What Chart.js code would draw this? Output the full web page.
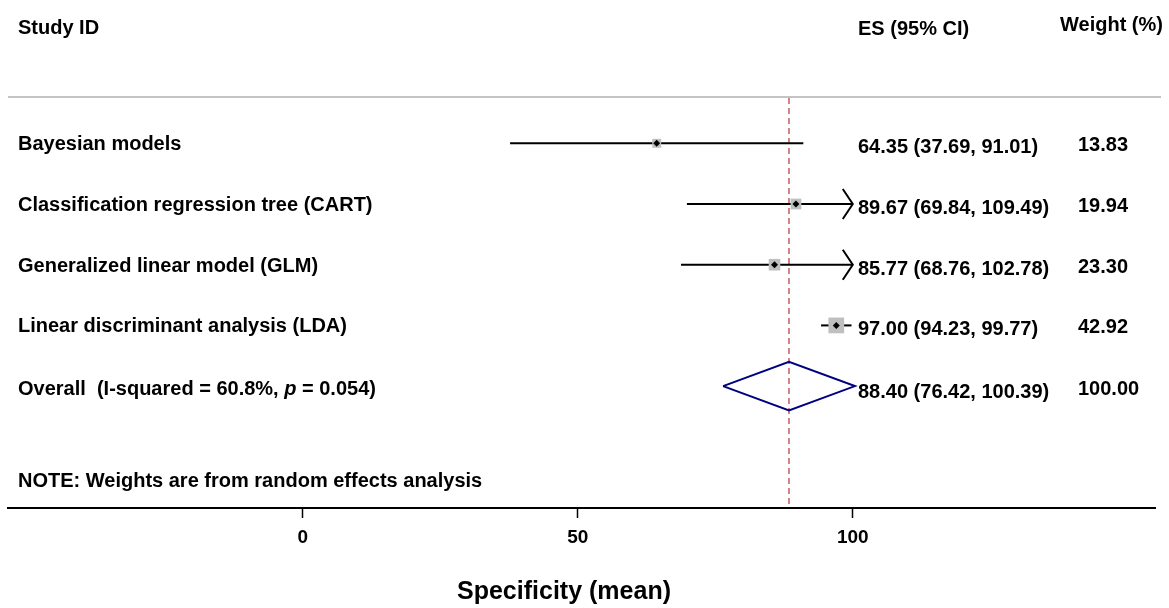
<!DOCTYPE html>
<html>
<head>
<meta charset="utf-8">
<script src="https://cdn.jsdelivr.net/npm/chart.js@4.4.1/dist/chart.umd.min.js"></script>
<style>
  html, body { margin: 0; padding: 0; background: #fff; }
  canvas { display: block; }
</style>
</head>
<body>
<canvas id="forestChart" width="1169" height="608"></canvas>
<script>
// study rows
const studies = [
  "Bayesian models",
  "Classification regression tree (CART)",
  "Generalized linear model (GLM)",
  "Linear discriminant analysis (LDA)",
];
const es = [64.35, 89.67, 85.77, 97.0];
const lower = [37.69, 69.84, 68.76, 94.23];
const upper = [91.01, 109.49, 102.78, 99.77];
const weights = [13.83, 19.94, 23.3, 42.92];

// pooled (random effects)
const overallES = 88.4;
const overallLower = 76.42;
const overallUpper = 100.39;
const overallWeight = 100.0;
const overallLabel = ["Overall  (I-squared = 60.8%, ", "p", " = 0.054)"];

const xTicks = [0, 50, 100];

const rows = studies.map((s, i) => i + 1);
const overallRow = studies.length + 1;
const clipMax = xTicks[xTicks.length - 1];
const FONT = "'Liberation Sans', Arial, Helvetica, sans-serif";

const fmt = (v) => v.toFixed(2);

// one dataset per confidence interval
const ciSets = studies.map((s, i) => ({
  type: "line",
  data: [
    { x: lower[i], y: rows[i] },
    { x: Math.min(upper[i], clipMax), y: rows[i] },
  ],
  borderColor: "#000",
  borderWidth: 2,
  pointRadius: 0,
  fill: false,
}));

const diamondH = 0.4;
const datasets = [
  {
    // centre markers
    type: "scatter",
    data: es.map((v, i) => ({ x: v, y: rows[i] })),
    pointStyle: "rectRot",
    pointRadius: 3.5,
    backgroundColor: "#000",
    borderWidth: 0,
  },
  {
    // weight boxes
    type: "scatter",
    data: es.map((v, i) => ({ x: v, y: rows[i] })),
    pointStyle: "rect",
    pointRadius: weights.map((w) => (2.4 * Math.sqrt(w)) / Math.SQRT2),
    backgroundColor: "#bfbfbf",
    borderWidth: 0,
  },
  ...ciSets,
  {
    // pooled diamond
    type: "line",
    data: [
      { x: overallLower, y: overallRow },
      { x: overallES, y: overallRow - diamondH },
      { x: overallUpper, y: overallRow },
      { x: overallES, y: overallRow + diamondH },
      { x: overallLower, y: overallRow },
    ],
    borderColor: "#000080",
    borderWidth: 2,
    pointRadius: 0,
    fill: false,
    tension: 0,
  },
];

const forestText = {
  id: "forestText",
  beforeDatasetsDraw(chart) {
    const { ctx, chartArea, scales } = chart;
    ctx.save();
    // header rule
    ctx.strokeStyle = "#c4c4c4";
    ctx.lineWidth = 2;
    ctx.beginPath();
    ctx.moveTo(8, 97);
    ctx.lineTo(1161, 97);
    ctx.stroke();
    // line of the pooled estimate
    const xr = scales.x.getPixelForValue(overallES);
    ctx.strokeStyle = "#c55a62";
    ctx.lineWidth = 1.5;
    ctx.setLineDash([6, 4]);
    ctx.beginPath();
    ctx.moveTo(xr, 98);
    ctx.lineTo(xr, chartArea.bottom);
    ctx.stroke();
    ctx.restore();
  },
  afterDraw(chart) {
    const { ctx, scales } = chart;
    const yOf = (r) => scales.y.getPixelForValue(r);
    ctx.save();
    ctx.fillStyle = "#000";
    ctx.textBaseline = "alphabetic";
    ctx.textAlign = "left";
    ctx.font = "bold 20px " + FONT;

    // arrows where the interval runs past the axis
    ctx.strokeStyle = "#000";
    ctx.lineWidth = 2;
    upper.forEach((u, i) => {
      if (u <= clipMax) return;
      const tx = scales.x.getPixelForValue(clipMax);
      const ty = yOf(rows[i]);
      ctx.beginPath();
      ctx.moveTo(tx - 10, ty - 15);
      ctx.lineTo(tx, ty);
      ctx.lineTo(tx - 10, ty + 15);
      ctx.stroke();
    });

    // headers
    ctx.fillText("Study ID", 18, 34);
    ctx.fillText("ES (95% CI)", 858, 35);
    ctx.fillText("Weight (%)", 1060, 31);

    // study rows
    studies.forEach((s, i) => {
      const y = yOf(rows[i]);
      ctx.fillText(s, 18, y + 7);
      ctx.fillText(fmt(es[i]) + " (" + fmt(lower[i]) + ", " + fmt(upper[i]) + ")", 858, y + 10);
      ctx.fillText(fmt(weights[i]), 1078, y + 8);
    });

    // overall row
    const yo = yOf(overallRow);
    let x = 18;
    overallLabel.forEach((part, k) => {
      ctx.font = (k === 1 ? "italic bold 20px " : "bold 20px ") + FONT;
      ctx.fillText(part, x, yo + 9);
      x += ctx.measureText(part).width;
    });
    ctx.font = "bold 20px " + FONT;
    ctx.fillText(fmt(overallES) + " (" + fmt(overallLower) + ", " + fmt(overallUpper) + ")", 858, yo + 12);
    ctx.fillText(fmt(overallWeight), 1078, yo + 9);

    ctx.fillText("NOTE: Weights are from random effects analysis", 18, 487);

    // axis title
    ctx.font = "bold 25px " + FONT;
    ctx.textAlign = "center";
    ctx.fillText("Specificity (mean)", 564, 599);
    ctx.restore();
  },
};

const ctx = document.getElementById("forestChart").getContext("2d");
const forestChart = new Chart(ctx, {
  type: "scatter",
  data: { datasets: datasets },
  options: {
    responsive: false,
    devicePixelRatio: 1,
    animation: false,
    layout: { autoPadding: false, padding: { left: 8, right: 14, top: 0, bottom: 0 } },
    plugins: {
      legend: { display: false },
      tooltip: { enabled: false },
    },
    scales: {
      x: {
        type: "linear",
        min: -53.6,
        max: 154.95,
        afterBuildTicks: (scale) => {
          scale.ticks = xTicks.map((v) => ({ value: v }));
        },
        afterFit: (scale) => {
          scale.height = 100;
        },
        grid: {
          drawOnChartArea: false,
          drawTicks: true,
          tickLength: 10,
          tickWidth: 1.5,
          tickColor: "#000",
        },
        border: { display: true, color: "#000", width: 2 },
        ticks: {
          padding: 8,
          color: "#000",
          font: { family: FONT, size: 19, weight: "bold" },
        },
      },
      y: {
        display: false,
        reverse: true,
        min: -1.361,
        max: 7.008,
      },
    },
  },
  plugins: [forestText],
});
</script>
</body>
</html>
